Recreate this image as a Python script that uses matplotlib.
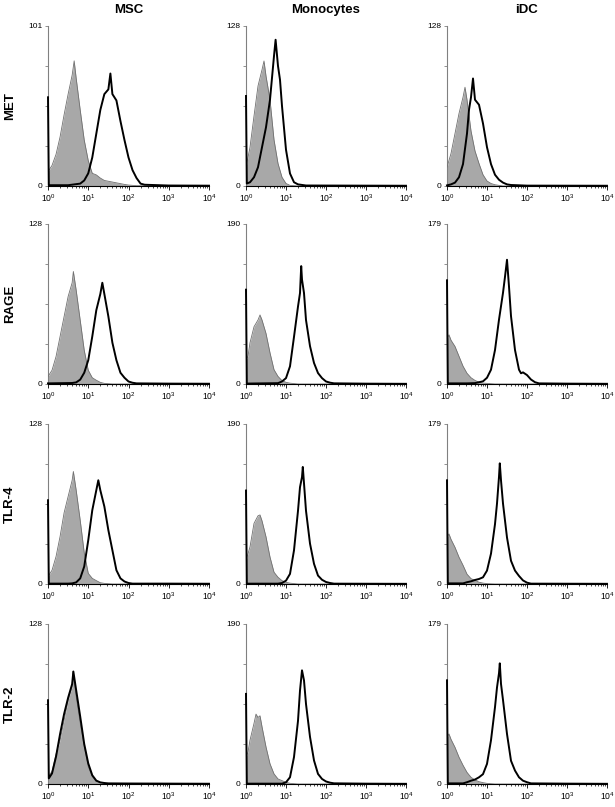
import numpy as np
import matplotlib.pyplot as plt
from matplotlib.ticker import FixedLocator, LogLocator, NullFormatter

plt.rcParams['font.family'] = ['Liberation Sans', 'DejaVu Sans']
plt.rcParams['mathtext.default'] = 'regular'

cell_types = ['MSC', 'Monocytes', 'iDC']
markers = ['MET', 'RAGE', 'TLR-4', 'TLR-2']
y_max = {
    'MET': [101, 128, 128],
    'RAGE': [128, 190, 179],
    'TLR-4': [128, 190, 179],
    'TLR-2': [128, 190, 179],
}
decade_ticks = [1, 10, 100, 1000, 10000]
decade_labels = ['$10^0$', '$10^1$', '$10^2$', '$10^3$', '$10^4$']

# curves: log10 fluorescence positions and event counts
# iso = grey filled control, ab = black antibody line

# MET
met_msc_iso_log = [0, 0.1, 0.2, 0.3, 0.4, 0.5, 0.6, 0.65, 0.7, 0.8, 0.9, 1.0, 1.1, 1.2, 1.3, 1.4, 1.5, 1.6, 1.7, 1.8, 1.9, 2.0, 2.2, 4.0]
met_msc_iso = [9, 13, 20, 31, 45, 58, 70, 79, 68, 48, 29, 16, 8, 7, 5, 3.5, 3, 2.5, 2, 1.5, 1, 0.6, 0.2, 0]
met_msc_ab_log = [0, 0.02, 0.5, 0.8, 0.9, 1.0, 1.1, 1.2, 1.3, 1.4, 1.5, 1.55, 1.6, 1.7, 1.8, 1.9, 2.0, 2.1, 2.2, 2.3, 2.4, 3.0, 4.0]
met_msc_ab = [56, 0.5, 0.5, 1.5, 3.5, 8, 18, 33, 48, 58, 61, 71, 58, 54, 41, 29, 18, 10, 5, 1.5, 0.8, 0.3, 0.2]

met_mono_iso_log = [0, 0.1, 0.2, 0.3, 0.4, 0.45, 0.5, 0.6, 0.7, 0.8, 0.9, 1.0, 1.1, 1.3, 4.0]
met_mono_iso = [15, 31, 56, 80, 93, 100, 88, 69, 37, 18, 7, 2, 0.5, 0, 0]
met_mono_ab_log = [0, 0.02, 0.1, 0.2, 0.3, 0.4, 0.5, 0.6, 0.7, 0.74, 0.8, 0.85, 0.9, 1.0, 1.1, 1.2, 1.3, 1.5, 4.0]
met_mono_ab = [72, 2, 3, 7, 15, 31, 47, 69, 104, 117, 96, 85, 64, 29, 10, 3, 1.3, 0.4, 0.2]

met_idc_iso_log = [0, 0.1, 0.2, 0.3, 0.4, 0.45, 0.5, 0.6, 0.7, 0.8, 0.9, 1.0, 1.1, 1.2, 1.4, 4.0]
met_idc_iso = [15, 26, 42, 58, 71, 79, 69, 44, 28, 18, 9, 4, 2, 1, 0, 0]
met_idc_ab_log = [0, 0.1, 0.2, 0.3, 0.4, 0.5, 0.55, 0.6, 0.65, 0.7, 0.8, 0.9, 1.0, 1.1, 1.2, 1.3, 1.4, 1.5, 1.6, 2.0, 4.0]
met_idc_ab = [0.5, 1.3, 2.7, 7, 17.5, 42, 61, 71, 86, 69, 65, 50, 31, 17.5, 9, 5, 2.7, 1.3, 0.8, 0.3, 0.2]

# RAGE
rage_msc_iso_log = [0, 0.1, 0.2, 0.3, 0.4, 0.5, 0.6, 0.63, 0.7, 0.8, 0.9, 1.0, 1.1, 1.2, 1.3, 1.4, 1.6, 4.0]
rage_msc_iso = [6, 11, 22, 38, 54, 70, 81, 90, 75, 51, 27, 11, 5, 3, 1.3, 0.5, 0, 0]
rage_msc_ab_log = [0, 0.6, 0.7, 0.8, 0.9, 1.0, 1.1, 1.2, 1.3, 1.35, 1.4, 1.5, 1.6, 1.7, 1.8, 1.9, 2.0, 2.1, 2.2, 3.0, 4.0]
rage_msc_ab = [0.5, 0.8, 1.3, 3.5, 9, 19, 38, 59, 72, 81, 72, 54, 33, 19, 9, 5, 2, 1, 0.5, 0.3, 0.2]

rage_mono_iso_log = [0, 0.05, 0.1, 0.2, 0.3, 0.35, 0.4, 0.5, 0.6, 0.7, 0.8, 0.9, 1.0, 1.1, 1.3, 4.0]
rage_mono_iso = [29, 33, 49, 68, 76, 82, 76, 60, 37, 17, 9, 4, 2, 1, 0, 0]
rage_mono_ab_log = [0, 0.02, 0.8, 0.9, 1.0, 1.1, 1.2, 1.3, 1.35, 1.38, 1.4, 1.45, 1.5, 1.6, 1.7, 1.8, 1.9, 2.0, 2.1, 2.2, 3.0, 4.0]
rage_mono_ab = [112, 0.5, 1, 3, 7, 21, 56, 92, 108, 140, 124, 108, 76, 45, 25, 13, 7, 3, 1.6, 0.8, 0.4, 0.2]

rage_idc_iso_log = [0, 0.05, 0.1, 0.2, 0.3, 0.4, 0.5, 0.6, 0.7, 0.8, 0.9, 1.0, 1.2, 4.0]
rage_idc_iso = [50, 55, 49, 42, 31, 20, 12, 7, 4, 2, 1, 0.7, 0, 0]
rage_idc_ab_log = [0, 0.02, 0.5, 0.7, 0.8, 0.9, 1.0, 1.1, 1.2, 1.3, 1.4, 1.45, 1.5, 1.55, 1.6, 1.7, 1.8, 1.85, 1.9, 2.0, 2.1, 2.2, 2.3, 3.0, 4.0]
rage_idc_ab = [116, 0.7, 0.7, 1, 2, 3, 7, 16, 38, 72, 102, 120, 139, 109, 76, 38, 16, 12, 13, 10, 5, 2, 0.7, 0.4, 0.2]

# TLR-4
tlr4_msc_iso_log = [0, 0.1, 0.2, 0.3, 0.4, 0.5, 0.6, 0.63, 0.7, 0.8, 0.9, 1.0, 1.1, 1.2, 1.3, 1.4, 1.6, 4.0]
tlr4_msc_iso = [6, 11, 22, 38, 57, 70, 83, 90, 75, 51, 25, 8.5, 4.5, 2.7, 1, 0.5, 0, 0]
tlr4_msc_ab_log = [0, 0.02, 0.5, 0.6, 0.7, 0.8, 0.9, 1.0, 1.1, 1.2, 1.25, 1.3, 1.4, 1.5, 1.6, 1.7, 1.8, 1.9, 2.0, 2.1, 3.0, 4.0]
tlr4_msc_ab = [67, 0.3, 0.3, 0.5, 1.3, 4.5, 14, 35, 59, 75, 83, 75, 62, 43, 27, 11, 4.5, 2, 0.8, 0.3, 0.3, 0.2]

tlr4_mono_iso_log = [0, 0.1, 0.2, 0.3, 0.35, 0.4, 0.5, 0.6, 0.7, 0.8, 0.9, 1.0, 1.1, 1.3, 4.0]
tlr4_mono_iso = [28, 44, 72, 81, 82, 75, 56, 32, 14, 8, 4, 2, 1, 0, 0]
tlr4_mono_ab_log = [0, 0.02, 0.8, 0.9, 1.0, 1.1, 1.2, 1.3, 1.35, 1.4, 1.42, 1.5, 1.6, 1.7, 1.8, 1.9, 2.0, 2.1, 2.2, 3.0, 4.0]
tlr4_mono_ab = [111, 0.4, 0.4, 1.2, 4, 12, 40, 87, 115, 127, 139, 87, 48, 24, 10, 5, 2.4, 1.2, 0.4, 0.3, 0.2]

tlr4_idc_iso_log = [0, 0.05, 0.1, 0.2, 0.3, 0.4, 0.5, 0.6, 0.7, 0.8, 0.9, 1.0, 1.2, 4.0]
tlr4_idc_iso = [52, 56, 50, 41, 30, 21, 11, 6, 4, 2, 1, 0.4, 0, 0]
tlr4_idc_ab_log = [0, 0.02, 0.4, 0.5, 0.6, 0.7, 0.8, 0.9, 1.0, 1.1, 1.2, 1.25, 1.3, 1.32, 1.35, 1.4, 1.5, 1.6, 1.7, 1.8, 1.9, 2.0, 2.1, 3.0, 4.0]
tlr4_idc_ab = [116, 0.7, 0.7, 2, 3, 4.5, 5.6, 7.5, 15, 34, 67, 90, 120, 135, 116, 90, 52, 26, 15, 9, 4, 1.5, 0.4, 0.3, 0.2]

# TLR-2
tlr2_msc_iso_log = [0, 0.1, 0.2, 0.3, 0.4, 0.5, 0.6, 0.62, 0.7, 0.8, 0.9, 1.0, 1.1, 1.2, 1.3, 1.4, 1.6, 4.0]
tlr2_msc_iso = [6, 10, 24, 35, 51, 67, 78, 90, 70, 49, 30, 14, 6, 2, 1, 0.3, 0, 0]
tlr2_msc_ab_log = [0, 0.02, 0.1, 0.2, 0.3, 0.4, 0.5, 0.6, 0.63, 0.7, 0.8, 0.9, 1.0, 1.1, 1.2, 1.3, 1.4, 1.5, 2.0, 3.0, 4.0]
tlr2_msc_ab = [67, 4.5, 8.5, 22, 40, 56, 69, 80, 90, 75, 54, 32, 16.5, 7, 2.7, 1.3, 0.8, 0.5, 0.4, 0.3, 0.2]

tlr2_mono_iso_log = [0, 0.05, 0.1, 0.2, 0.25, 0.3, 0.35, 0.4, 0.5, 0.6, 0.7, 0.8, 0.9, 1.0, 1.1, 1.3, 4.0]
tlr2_mono_iso = [32, 38, 52, 72, 83, 79, 81, 68, 44, 24, 12, 6, 4, 2, 0.8, 0, 0]
tlr2_mono_ab_log = [0, 0.02, 0.9, 1.0, 1.1, 1.2, 1.3, 1.35, 1.4, 1.45, 1.5, 1.6, 1.7, 1.8, 1.9, 2.0, 2.1, 2.2, 3.0, 4.0]
tlr2_mono_ab = [107, 0.4, 0.4, 2, 8, 32, 75, 111, 135, 123, 95, 56, 28, 12, 6, 3, 1.6, 0.8, 0.4, 0.2]

tlr2_idc_iso_log = [0, 0.05, 0.1, 0.2, 0.3, 0.4, 0.5, 0.6, 0.7, 0.8, 0.9, 1.0, 1.2, 4.0]
tlr2_idc_iso = [52, 56, 50, 41, 30, 21, 13, 7.5, 4.5, 2.6, 1.5, 0.7, 0, 0]
tlr2_idc_ab_log = [0, 0.02, 0.4, 0.5, 0.6, 0.7, 0.8, 0.9, 1.0, 1.1, 1.2, 1.25, 1.3, 1.32, 1.35, 1.4, 1.5, 1.6, 1.7, 1.8, 1.9, 2.0, 2.1, 3.0, 4.0]
tlr2_idc_ab = [116, 0.7, 0.7, 2, 3.7, 5, 7.5, 11, 22.5, 49, 86, 108, 124, 135, 112, 94, 56, 26, 15, 7.5, 3.7, 2, 0.7, 0.4, 0.2]

curves = {
    ('MET', 'MSC'): (met_msc_iso_log, met_msc_iso, met_msc_ab_log, met_msc_ab),
    ('MET', 'Monocytes'): (met_mono_iso_log, met_mono_iso, met_mono_ab_log, met_mono_ab),
    ('MET', 'iDC'): (met_idc_iso_log, met_idc_iso, met_idc_ab_log, met_idc_ab),
    ('RAGE', 'MSC'): (rage_msc_iso_log, rage_msc_iso, rage_msc_ab_log, rage_msc_ab),
    ('RAGE', 'Monocytes'): (rage_mono_iso_log, rage_mono_iso, rage_mono_ab_log, rage_mono_ab),
    ('RAGE', 'iDC'): (rage_idc_iso_log, rage_idc_iso, rage_idc_ab_log, rage_idc_ab),
    ('TLR-4', 'MSC'): (tlr4_msc_iso_log, tlr4_msc_iso, tlr4_msc_ab_log, tlr4_msc_ab),
    ('TLR-4', 'Monocytes'): (tlr4_mono_iso_log, tlr4_mono_iso, tlr4_mono_ab_log, tlr4_mono_ab),
    ('TLR-4', 'iDC'): (tlr4_idc_iso_log, tlr4_idc_iso, tlr4_idc_ab_log, tlr4_idc_ab),
    ('TLR-2', 'MSC'): (tlr2_msc_iso_log, tlr2_msc_iso, tlr2_msc_ab_log, tlr2_msc_ab),
    ('TLR-2', 'Monocytes'): (tlr2_mono_iso_log, tlr2_mono_iso, tlr2_mono_ab_log, tlr2_mono_ab),
    ('TLR-2', 'iDC'): (tlr2_idc_iso_log, tlr2_idc_iso, tlr2_idc_ab_log, tlr2_idc_ab),
}

W, H = 615, 807
col_left = [48, 246, 447]
col_width = [161, 160, 160]
row_top = [26, 224, 424, 624]
ax_h = 160

fig = plt.figure(figsize=(W / 100, H / 100), dpi=100)

for r, marker in enumerate(markers):
    for c, cell in enumerate(cell_types):
        ax = fig.add_axes([col_left[c] / W, 1 - (row_top[r] + ax_h) / H, col_width[c] / W, ax_h / H])
        iso_log, iso, ab_log, ab = curves[(marker, cell)]
        x_iso = 10 ** np.array(iso_log, dtype=float)
        x_ab = 10 ** np.array(ab_log, dtype=float)
        ymax = y_max[marker][c]

        ax.fill_between(x_iso, iso, color='#a8a8a8', lw=0, zorder=2)
        ax.plot(x_iso, iso, color='#707070', lw=0.6, zorder=3)
        ax.plot(x_ab, ab, color='black', lw=1.4, zorder=4, clip_on=False)

        ax.set_xscale('log')
        ax.set_xlim(1, 10000)
        ax.set_ylim(0, ymax)

        ax.set_xticks(decade_ticks)
        ax.set_xticklabels(decade_labels)
        ax.xaxis.set_minor_locator(LogLocator(base=10, subs=range(2, 10)))
        ax.xaxis.set_minor_formatter(NullFormatter())
        ax.set_yticks([0, ymax])
        ax.set_yticklabels(['0', str(ymax)])
        ax.yaxis.set_minor_locator(FixedLocator([ymax / 4, ymax / 2, 3 * ymax / 4]))

        ax.tick_params(axis='x', which='major', direction='out', length=3, width=0.6,
                       labelsize=6.2, pad=1.5)
        ax.tick_params(axis='x', which='minor', direction='out', length=1.5, width=0.5)
        ax.tick_params(axis='y', which='both', direction='out', length=2.5, width=0.6,
                       color='#808080', labelsize=6, pad=1.5)

        ax.spines['top'].set_visible(False)
        ax.spines['right'].set_visible(False)
        ax.spines['bottom'].set_linewidth(0.8)
        ax.spines['left'].set_color('#808080')
        ax.spines['left'].set_linewidth(0.8)

for c, cell in enumerate(cell_types):
    fig.text((col_left[c] + col_width[c] / 2) / W, 1 - 10 / H, cell, ha='center', va='center',
             fontsize=9.5, fontweight='bold')

for r, marker in enumerate(markers):
    fig.text(10 / W, 1 - (row_top[r] + ax_h / 2) / H, marker, ha='center', va='center',
             rotation=90, fontsize=9.5, fontweight='bold')

fig.savefig('out.png', dpi=100)
plt.close()
